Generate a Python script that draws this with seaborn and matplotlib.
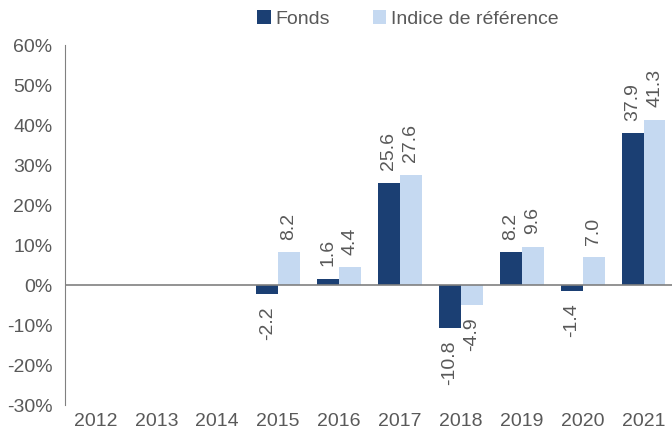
import numpy as np
import pandas as pd
import matplotlib
matplotlib.use("Agg")
import matplotlib.pyplot as plt
import seaborn as sns

years = ["2012", "2013", "2014", "2015", "2016", "2017", "2018", "2019", "2020", "2021"]
fonds = [np.nan, np.nan, np.nan, -2.2, 1.6, 25.6, -10.8, 8.2, -1.4, 37.9]
indice = [np.nan, np.nan, np.nan, 8.2, 4.4, 27.6, -4.9, 9.6, 7.0, 41.3]
series_names = ["Fonds", "Indice de référence"]
colors = ["#1B3F73", "#C5D9F1"]
yticks = [-30, -20, -10, 0, 10, 20, 30, 40, 50, 60]

sns.set_style("white")
plt.rcParams["font.family"] = ["Liberation Sans", "DejaVu Sans"]
gray = "#595959"

df = pd.DataFrame({
    "year": years * 2,
    "value": fonds + indice,
    "serie": [series_names[0]] * len(years) + [series_names[1]] * len(years),
})

fig = plt.figure(figsize=(6.72, 4.34), dpi=100)
ax = fig.add_axes([65 / 672, 0.0668, 609 / 672, 0.8295])
sns.barplot(data=df, x="year", y="value", hue="serie", palette=colors,
            width=0.72, gap=0, ax=ax, legend=True, saturation=1,
            linewidth=0, edgecolor="none")

ax.set_ylim(-30, 60)
ax.set_yticks(yticks)
ax.set_yticklabels([f"{t}%" for t in yticks], fontsize=14, color=gray)
ax.tick_params(axis="x", labelsize=14, colors=gray, length=0, pad=6)
ax.tick_params(axis="y", length=0, pad=9)
ax.set_xlabel("")
ax.set_ylabel("")
for s in ["top", "right", "bottom"]:
    ax.spines[s].set_visible(False)
ax.spines["left"].set_color("#808080")
ax.axhline(0, color="#808080", lw=1.2, zorder=3)
ax.set_xlim(-0.5, len(years) - 0.5)

for cont in ax.containers:
    labels = []
    for bar in cont:
        h = bar.get_height()
        labels.append("" if np.isnan(h) else f"{h:.1f}")
    ax.bar_label(cont, labels=labels, rotation=90, padding=9,
                 fontsize=14, color=gray)

leg = ax.legend(loc="center", bbox_to_anchor=(408 / 672, 1 - 19 / 434),
                bbox_transform=fig.transFigure, ncol=2, frameon=False,
                fontsize=14, handlelength=0.7, handleheight=0.7,
                handletextpad=0.25, columnspacing=2.2, borderpad=0)
for t in leg.get_texts():
    t.set_color(gray)

fig.savefig("out.png", dpi=100)
